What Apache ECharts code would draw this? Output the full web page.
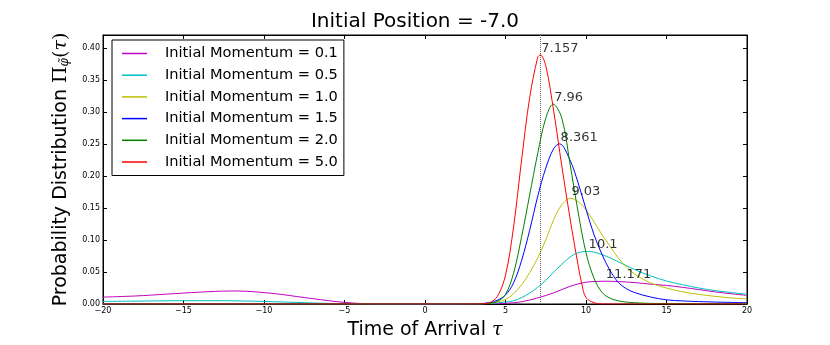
<!DOCTYPE html>
<html lang="en">

<head>
    <meta charset="UTF-8">
    <title>Initial Position = -7.0</title>
    <script src="https://cdn.jsdelivr.net/npm/echarts@6/dist/echarts.min.js"></script>
</head>

<body style="margin: 0">
    <div id="container" style="width: 830px; height: 345px"></div>
    <script type="text/javascript">
        // [tau, probability]
        var momenta = ['0.1', '0.5', '1.0', '1.5', '2.0', '5.0'];
        var colors = ['#bf00bf', '#00bfbf', '#bfbf00', '#0000ff', '#008000', '#ff0000'];

        var p01 = [[-20, 0.0108], [-18, 0.0125], [-16, 0.0155], [-14, 0.0185], [-12, 0.0203], [-11, 0.0198],
            [-10, 0.0178], [-9, 0.0152], [-8, 0.0118], [-7, 0.0085], [-6, 0.0052], [-5, 0.0025], [-4, 0.0008],
            [-3, 0.0002], [-2, 0], [0, 0], [2, 0], [3, 0.0002], [4, 0.0005], [5, 0.001], [6, 0.0035], [7, 0.0095],
            [8, 0.0175], [9, 0.0275], [10, 0.034], [11, 0.0355], [11.171, 0.0356], [12, 0.035], [13, 0.0335],
            [14, 0.031], [15, 0.029], [16, 0.026], [17, 0.0225], [18, 0.019], [19, 0.016], [20, 0.0135]];
        var p05 = [[-20, 0.004], [-18, 0.0045], [-16, 0.005], [-14, 0.0052], [-12, 0.005], [-10, 0.004],
            [-8, 0.0025], [-6, 0.001], [-4, 0.0003], [-2, 0.0001], [0, 0.0001], [2, 0.0003], [4, 0.001],
            [5, 0.003], [5.5, 0.005], [6, 0.01], [6.5, 0.017], [7, 0.026], [7.5, 0.037], [8, 0.05], [8.5, 0.062],
            [9, 0.073], [9.5, 0.08], [10.1, 0.082], [10.5, 0.081], [11, 0.077], [11.5, 0.072], [12, 0.066],
            [12.5, 0.06], [13, 0.054], [14, 0.044], [15, 0.036], [16, 0.03], [17, 0.025], [18, 0.021],
            [19, 0.018], [20, 0.015]];
        var p10 = [[-20, 0], [3, 0], [4, 0.001], [4.5, 0.003], [5, 0.007], [5.5, 0.016], [6, 0.03], [6.5, 0.049],
            [7, 0.072], [7.5, 0.1], [8, 0.132], [8.5, 0.155], [9.03, 0.165], [9.5, 0.16], [10, 0.147],
            [10.5, 0.128], [11, 0.108], [11.5, 0.09], [12, 0.072], [12.5, 0.058], [13, 0.047], [14, 0.033],
            [15, 0.025], [16, 0.019], [17, 0.015], [18, 0.012], [19, 0.0095], [20, 0.008]];
        var p15 = [[-20, 0], [3, 0], [4, 0.002], [4.5, 0.006], [5, 0.014], [5.5, 0.033], [6, 0.068], [6.5, 0.115],
            [7, 0.168], [7.5, 0.212], [8, 0.243], [8.361, 0.25], [9, 0.225], [9.5, 0.19], [10, 0.148],
            [10.5, 0.108], [11, 0.077], [11.5, 0.052], [12, 0.034], [12.5, 0.024], [13, 0.018], [14, 0.011],
            [15, 0.0065], [16, 0.0048], [17, 0.0038], [18, 0.003], [19, 0.0025], [20, 0.002]];
        var p20 = [[-20, 0], [3, 0], [4, 0.001], [4.5, 0.004], [5, 0.015], [5.5, 0.048], [6, 0.105], [6.5, 0.17],
            [7, 0.235], [7.5, 0.29], [7.96, 0.312], [8.5, 0.29], [9, 0.22], [9.5, 0.145], [10, 0.08],
            [10.5, 0.04], [11, 0.018], [11.5, 0.009], [12, 0.005], [12.5, 0.003], [13, 0.002], [14, 0.001],
            [16, 0.0005], [20, 0.0002]];
        var p50 = [[-20, 0], [3, 0], [3.5, 0.0005], [4, 0.002], [4.5, 0.012], [5, 0.045], [5.5, 0.12], [6, 0.225],
            [6.5, 0.322], [7, 0.385], [7.157, 0.389], [7.5, 0.372], [8, 0.3], [8.5, 0.215], [9, 0.135],
            [9.5, 0.062], [9.75, 0.03], [10, 0.01], [10.5, 0.002], [11, 0], [20, 0]];

        // peak annotations: [tau, peak height, text]
        var peaks = [[7.157, 0.389, '7.157'], [7.96, 0.312, '7.96'], [8.361, 0.25, '8.361'],
            [9.03, 0.165, '9.03'], [10.1, 0.082, '10.1'], [11.171, 0.0356, '11.171']];
        var curves = [p01, p05, p10, p15, p20, p50];

        var font = 'DejaVu Sans';
        var dom = document.getElementById('container');
        var myChart = echarts.init(dom, null, { renderer: 'canvas' });

        var names = momenta.map(function (m) { return 'Initial Momentum = ' + m; });

        var series = curves.map(function (d, i) {
            var s = {
                name: names[i],
                type: 'line',
                data: d,
                showSymbol: false,
                smooth: 0.35,
                color: colors[i],
                lineStyle: { width: 1, color: colors[i] },
                z: 2 + i
            };
            if (i === 5) {
                s.markLine = {
                    silent: true,
                    symbol: ['none', 'none'],
                    label: { show: false },
                    lineStyle: { type: 'dotted', color: '#666', width: 1 },
                    data: [{ xAxis: peaks[0][0] }]
                };
            }
            return s;
        });

        series.push({
            name: 'peaks',
            type: 'scatter',
            data: peaks,
            symbolSize: 0,
            z: 20,
            label: {
                show: true,
                position: [1, 0],
                align: 'left',
                verticalAlign: 'bottom',
                formatter: function (p) { return p.value[2]; },
                fontFamily: font,
                fontSize: 13,
                color: '#000'
            }
        });

        function tickFmt(step, digits) {
            return function (v) {
                var k = v / step;
                if (Math.abs(k - Math.round(k)) > 1e-6) return '';
                return v.toFixed(digits).replace('-', '\u2212');
            };
        }

        var frameLine = { onZero: false, lineStyle: { color: '#000' } };
        var frameTick = { inside: true, length: 4, lineStyle: { color: '#000' } };

        var option = {
            animation: false,
            backgroundColor: '#fff',
            title: {
                text: 'Initial Position = -7.0',
                left: 'center',
                top: 7,
                textStyle: { fontFamily: font, fontSize: 20, fontWeight: 'normal', color: '#000' }
            },
            legend: {
                data: names,
                orient: 'vertical',
                left: 112,
                top: 40,
                padding: [6, 6, 6, 10],
                borderColor: '#000',
                borderWidth: 1,
                itemWidth: 25,
                itemHeight: 1.5,
                itemGap: 6.7,
                icon: 'rect',
                textStyle: { fontFamily: font, fontSize: 14.6, lineHeight: 15, color: '#000', padding: [0, 0, 0, 13] }
            },
            grid: { left: 103, right: 83, top: 35, bottom: 35, show: true, borderColor: '#000', borderWidth: 1 },
            xAxis: [
                {
                    type: 'value', min: -20, max: 20, interval: 5,
                    name: 'Time of Arrival {t|τ}',
                    nameLocation: 'middle',
                    nameGap: 17,
                    nameTextStyle: {
                        fontFamily: font, fontSize: 19, color: '#000',
                        rich: { t: { fontFamily: 'DejaVu Serif', fontStyle: 'italic', fontSize: 19 } }
                    },
                    axisLine: frameLine,
                    axisTick: frameTick,
                    axisLabel: { fontFamily: font, fontSize: 8, color: '#000', margin: 3, formatter: tickFmt(5, 0) },
                    splitLine: { show: false }
                },
                {
                    type: 'value', min: -20, max: 20, interval: 5, position: 'top',
                    axisLine: frameLine,
                    axisTick: frameTick,
                    axisLabel: { show: false },
                    splitLine: { show: false }
                }
            ],
            yAxis: [
                {
                    type: 'value', min: 0, max: 0.42, interval: 0.05,
                    name: 'Probability Distribution {p|Π}{s|φ̃}{p|(}{t|τ}{p|)}',
                    nameLocation: 'middle',
                    nameGap: 30,
                    nameTextStyle: {
                        fontFamily: font, fontSize: 19, color: '#000',
                        rich: {
                            p: { fontFamily: 'DejaVu Serif', fontSize: 19 },
                            s: { fontFamily: 'DejaVu Serif', fontStyle: 'italic', fontSize: 12, verticalAlign: 'bottom', padding: [8, 0, 0, 0] },
                            t: { fontFamily: 'DejaVu Serif', fontStyle: 'italic', fontSize: 19 }
                        }
                    },
                    axisLine: frameLine,
                    axisTick: frameTick,
                    axisLabel: { fontFamily: font, fontSize: 8, color: '#000', margin: 3, formatter: tickFmt(0.05, 2) },
                    splitLine: { show: false }
                },
                {
                    type: 'value', min: 0, max: 0.42, interval: 0.05, position: 'right',
                    axisLine: frameLine,
                    axisTick: frameTick,
                    axisLabel: { show: false },
                    splitLine: { show: false }
                }
            ],
            series: series
        };

        myChart.setOption(option);
        window.addEventListener('resize', myChart.resize);
    </script>
</body>

</html>
